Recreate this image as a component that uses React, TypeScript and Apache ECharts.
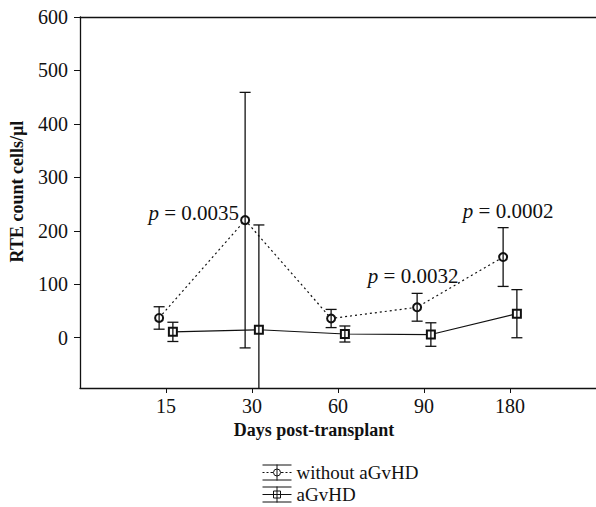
import React, { useEffect, useRef } from "react";
import * as echarts from "echarts";

const categories = ["15", "30", "60", "90", "180"];
const withoutMean = [37, 220, 36, 57, 151];
const withoutErr = [21, 239, 17, 26, 55];
const gvhdMean = [11, 15, 7, 6, 45];
const gvhdErr = [18, 196, 15, 22, 45];
const yTicks = [0, 100, 200, 300, 400, 500, 600];
const xTicks = [1, 2, 3, 4, 5];
const pLabels = ["", "0.0035", "", "0.0032", "0.0002"];

const FONT = "Liberation Serif";
const INK = "#111111";
const SHIFT = 0.08;

const iconWithout =
  "path://M0,0.5H29M0,15.5H29M14.5,0V16M0,8H2M4,8H6M8,8H10.5M18.5,8H21M23,8H25M27,8H29M18,8A3.5,3.5,0,1,1,11,8A3.5,3.5,0,1,1,18,8";
const iconGvhd =
  "path://M0,0.5H29M0,15.5H29M14.5,0V16M0,8H29M11,4.5H18V11.5H11Z";

function errRender(params: any, api: any) {
  const x = api.value(0);
  const m = api.value(1);
  const e = api.value(2);
  const top = api.coord([x, m + e]);
  const bot = api.coord([x, m - e]);
  const cs = params.coordSys;
  const yMin = cs.y;
  const yMax = cs.y + cs.height;
  const t = Math.max(top[1], yMin);
  const b = Math.min(bot[1], yMax);
  const style = { stroke: INK, lineWidth: 1.3 };
  const children: any[] = [
    { type: "line", shape: { x1: top[0], y1: t, x2: top[0], y2: b }, style },
  ];
  if (top[1] >= yMin) {
    children.push({ type: "line", shape: { x1: top[0] - 5.5, y1: t, x2: top[0] + 5.5, y2: t }, style });
  }
  if (bot[1] <= yMax) {
    children.push({ type: "line", shape: { x1: bot[0] - 5.5, y1: b, x2: bot[0] + 5.5, y2: b }, style });
  }
  return { type: "group", children };
}

export default function App() {
  const ref = useRef<HTMLDivElement>(null);
  useEffect(() => {
    if (!ref.current) return;
    const chart = echarts.init(ref.current, undefined, { renderer: "svg" });

    const withoutData = withoutMean.map((v, i) => {
      const item: any = { value: [i + 1 - SHIFT, v] };
      if (pLabels[i]) {
        const pos: any = {
          1: { position: "left", distance: 1, offset: [0, -7] },
          3: { position: "top", distance: 16, offset: [-4, 0] },
          4: { position: "top", distance: 31, offset: [5, 0] },
        }[i];
        item.label = {
          show: true,
          ...pos,
          formatter: "{p|p} = " + pLabels[i],
          fontFamily: FONT,
          fontSize: 21,
          color: INK,
          rich: { p: { fontStyle: "italic", fontFamily: FONT, fontSize: 21, color: INK } },
        };
      }
      return item;
    });
    const gvhdData = gvhdMean.map((v, i) => [i + 1 + SHIFT, v]);
    const withoutErrData = withoutMean.map((v, i) => [i + 1 - SHIFT, v, withoutErr[i]]);
    const gvhdErrData = gvhdMean.map((v, i) => [i + 1 + SHIFT, v, gvhdErr[i]]);

    chart.setOption({
      animation: false,
      backgroundColor: "#fff",
      textStyle: { fontFamily: FONT },
      grid: { left: 80, top: 17, width: 519, height: 371, containLabel: false },
      legend: {
        orient: "vertical",
        left: 262,
        top: 463,
        padding: 0,
        itemWidth: 29,
        itemHeight: 16,
        itemGap: 3,
        selectedMode: false,
        data: [
          { name: "without aGvHD", icon: iconWithout },
          { name: "aGvHD", icon: iconGvhd },
        ],
        itemStyle: { color: "rgba(0,0,0,0)", borderColor: INK, borderWidth: 1 },
        lineStyle: { width: 0 },
        textStyle: { fontFamily: FONT, fontSize: 19, color: INK },
      },
      xAxis: [
        {
          type: "value",
          min: 0,
          max: 6,
          interval: 1,
          name: "Days post-transplant",
          nameLocation: "middle",
          nameGap: 31,
          nameTextStyle: { fontFamily: FONT, fontSize: 18, fontWeight: "bold", color: INK, padding: [0, 48, 0, 0] },
          axisLine: { show: true, onZero: false, lineStyle: { color: INK, width: 1.3 } },
          axisTick: { show: true, length: 5, customValues: xTicks, lineStyle: { color: INK } },
          axisLabel: {
            customValues: xTicks,
            formatter: (v: number) => categories[Math.round(v) - 1] ?? "",
            fontFamily: FONT,
            fontSize: 20,
            color: INK,
            margin: 8,
          },
          splitLine: { show: false },
        },
        {
          type: "value",
          position: "top",
          min: 0,
          max: 6,
          axisLine: { show: true, onZero: false, lineStyle: { color: INK, width: 1.3 } },
          axisTick: { show: false },
          axisLabel: { show: false },
          splitLine: { show: false },
        },
      ],
      yAxis: {
        type: "value",
        min: -94,
        max: 600,
        name: "RTE count cells/µl",
        nameLocation: "middle",
        nameGap: 54,
        nameTextStyle: { fontFamily: FONT, fontSize: 18, fontWeight: "bold", color: INK, padding: [0, 0, 0, 22] },
        axisLine: { show: true, onZero: false, lineStyle: { color: INK, width: 1.3 } },
        axisTick: { show: true, length: 6, customValues: yTicks, lineStyle: { color: INK } },
        axisLabel: { customValues: yTicks, fontFamily: FONT, fontSize: 20, color: INK, margin: 12 },
        splitLine: { show: false },
      },
      series: [
        {
          name: "without aGvHD",
          type: "line",
          data: withoutData,
          symbol: "emptyCircle",
          symbolSize: 8,
          itemStyle: { color: INK, borderWidth: 1 },
          lineStyle: { color: INK, width: 1.2, type: [2, 3] },
          z: 3,
        },
        {
          name: "aGvHD",
          type: "line",
          data: gvhdData,
          symbol: "emptyRect",
          symbolSize: 8,
          itemStyle: { color: INK, borderWidth: 1 },
          lineStyle: { color: INK, width: 1.2 },
          z: 3,
        },
        { type: "custom", renderItem: errRender, data: withoutErrData, z: 4, silent: true },
        { type: "custom", renderItem: errRender, data: gvhdErrData, z: 4, silent: true },
      ],
    });
    return () => chart.dispose();
  }, []);
  return <div ref={ref} style={{ position: "absolute", left: 0, top: 0, width: 596, height: 507 }} />;
}
